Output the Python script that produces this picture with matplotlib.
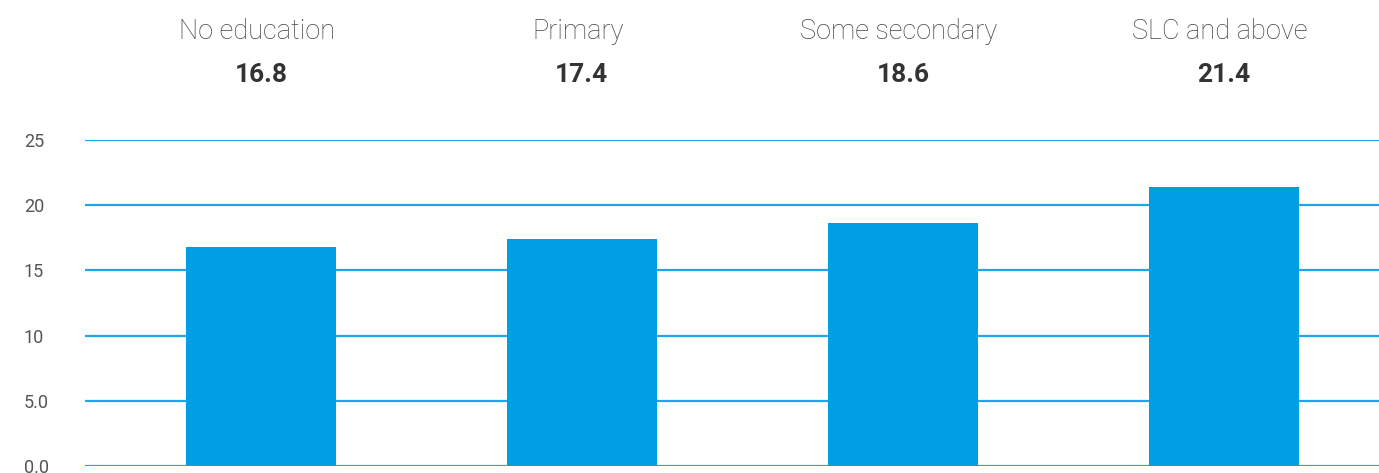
import matplotlib.pyplot as plt
import numpy as np

# Values
categories = ["No education", "Primary", "Some secondary", "SLC and above"]
values = [16.8, 17.4, 18.6, 21.4]
y_ticks = [0, 5, 10, 15, 20, 25]
y_tick_labels = ["0.0", "5.0", "10", "15", "20", "25"]

bar_color = "#009EE2"
grid_color = "#1FA6E6"

fig = plt.figure(figsize=(13.79, 4.73), dpi=100)
ax = fig.add_axes([85 / 1379, 7 / 473, 1 - 85 / 1379, 326 / 473])

x = np.arange(len(categories))
ax.bar(x, values, width=0.465, color=bar_color, zorder=3)

ax.set_xlim(-0.548, 3.483)
ax.set_ylim(0, 25)
ax.set_xticks([])
ax.set_yticks(y_ticks)
ax.set_yticklabels(y_tick_labels, ha="left", fontsize=13, color="#555555",
                   family="Roboto")
ax.tick_params(axis="y", length=0, pad=44)
ax.grid(axis="y", color=grid_color, linewidth=1.6, zorder=1)
ax.set_axisbelow(True)
for s in ax.spines.values():
    s.set_visible(False)

# Header: category names and values above the plot
for xi, name, val in zip(x, categories, values):
    ax.text(xi - 0.012, 33.3, name, ha="center", va="center", fontsize=19.5,
            fontweight="light", color="#444444", family="Roboto", clip_on=False)
    ax.text(xi, 30.0, f"{val:.1f}", ha="center", va="center", fontsize=19,
            fontweight="bold", color="#333333", family="Roboto", clip_on=False)

plt.savefig("out.png", dpi=100)
